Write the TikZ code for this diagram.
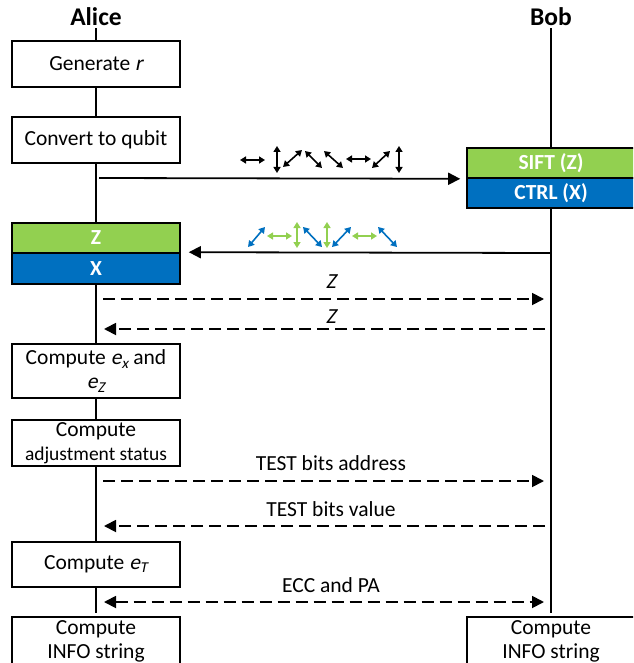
\documentclass[tikz,border=0pt]{standalone}
\usepackage{fontspec}
\setmainfont{Carlito}[AutoFakeSlant=0.2]
\usetikzlibrary{arrows.meta}
\definecolor{sgreen}{HTML}{92D050}
\definecolor{sblue}{HTML}{0070C0}
\newcommand\esub[2]{\textit{#1}\textsubscript{\textit{#2}}}
\begin{document}
\begin{tikzpicture}[x=1pt,y=-1pt,
  box/.style={draw=black, line width=1.6pt, fill=white, minimum width=168pt, inner sep=0pt, align=center, font=\fontsize{21.5}{24}\selectfont},
  gbox/.style={box, fill=sgreen, text=white, font=\bfseries\fontsize{21.5}{24}\selectfont},
  bbox/.style={box, fill=sblue, text=white, font=\bfseries\fontsize{21.5}{24}\selectfont},
  title/.style={font=\bfseries\fontsize{25.5}{26}\selectfont, inner sep=2pt},
  life/.style={line width=1.6pt},
  msg/.style={line width=1.8pt, -{Triangle[length=12pt,width=12pt]}},
  dmsg/.style={msg, dash pattern=on 12pt off 6pt},
  lbl/.style={font=\fontsize{21.5}{24}\selectfont, inner sep=0pt},
  pol/.style={line width=1.6pt, {Triangle[length=6pt,width=7pt]}-{Triangle[length=6pt,width=7pt]}},
]
\clip (0,0) rectangle (633,663);
% titles
\node[title] (alice) at (96,17) {Alice};
\node[title] (bob) at (551,17) {Bob};
% Alice boxes
\node[box, minimum height=46pt] (gen) at (96,64) {Generate \textit{r}};
\node[box, minimum height=46pt] (conv) at (96,140) {Convert to qubit};
\node[gbox, minimum height=30pt] (aZ) at (96,238) {\textit{Z}};
\node[bbox, minimum height=31pt] (aX) at (96,268.5) {\textit{X}};
\node[box, minimum height=54pt] (ex) at (96,371) {Compute \esub{e}{x} and\\\esub{e}{Z}};
\node[box, minimum height=46pt] (adj) at (96,443) {Compute\\{\fontsize{19.5}{20}\selectfont adjustment status}};
\node[box, minimum height=45pt] (eT) at (96,564.5) {Compute \esub{e}{T}};
\node[box, minimum height=48pt] (infoA) at (96,641) {Compute\\INFO string};
% Bob boxes
\node[gbox, minimum height=30pt] (sift) at (551,163) {SIFT (\textit{Z})};
\node[bbox, minimum height=30pt] (ctrl) at (551,193) {CTRL (\textit{X})};
\node[box, minimum height=48pt] (infoB) at (551,641) {Compute\\INFO string};
% lifeline ends
\coordinate (aEnd) at (96,613);
\coordinate (bEnd) at (551,613);
% lifelines
\draw[life] (alice.south) -- (gen.north);
\draw[life] (gen.south) -- (conv.north);
\draw[life] (conv.south) -- (aZ.north);
\draw[life] (aX.south) -- (ex.north);
\draw[life] (ex.south) -- (adj.north);
\draw[life] (adj.south) -- (eT.north);
\draw[life] (eT.south) -- (aEnd);
\draw[life] (bob.south) -- (sift.north);
\draw[life] (ctrl.south) -- (bEnd);
% message end points
\coordinate (m1a) at (99,178);
\coordinate (m2b) at (551,253);
\coordinate (m3a) at (103,299);
\coordinate (m3b) at (544,299);
\coordinate (m4b) at (545,329);
\coordinate (m4a) at (104,329);
\coordinate (m5a) at (103,481);
\coordinate (m5b) at (544,481);
\coordinate (m6b) at (545,526);
\coordinate (m6a) at (104,526);
\coordinate (m7a) at (104,602);
\coordinate (m7b) at (544,602);
% messages
\draw[msg] (m1a) -- ([xshift=-6pt]sift.south west);
\draw[msg] (m2b) -- ([xshift=8pt]aX.north east);
\draw[dmsg] (m3a) -- (m3b);
\draw[dmsg] (m4b) -- (m4a);
\draw[dmsg] (m5a) -- (m5b);
\draw[dmsg] (m6b) -- (m6a);
\draw[dmsg, {Triangle[length=12pt,width=12pt]}-{Triangle[length=12pt,width=12pt]}] (m7a) -- (m7b);
% labels
\node[lbl] (l3) at (331,282) {\textit{Z}};
\node[lbl] (l4) at (331,317) {\textit{Z}};
\node[lbl] (l5) at (331,463) {TEST bits address};
\node[lbl] (l6) at (331,509) {TEST bits value};
\node[lbl] (l7) at (331,585) {ECC and PA};
% polarisation symbols, sent
\draw[pol] (240,160) -- (265,160);
\draw[pol] (277,146) -- (277,173);
\draw[pol] (283,167) -- (302,150);
\draw[pol] (305,151) -- (322,168);
\draw[pol] (324,151) -- (343,168);
\draw[pol] (346,159) -- (371,159);
\draw[pol] (372,168) -- (390,151);
\draw[pol] (399,146) -- (399,173);
% polarisation symbols, measured
\draw[pol, sblue] (248,247) -- (265,227);
\draw[pol, sgreen] (267,236) -- (292,236);
\draw[pol, sgreen] (297,222) -- (297,248);
\draw[pol, sblue] (303,227) -- (322,247);
\draw[pol, sgreen] (327,222) -- (327,248);
\draw[pol, sblue] (332,247) -- (351,227);
\draw[pol, sgreen] (352,236) -- (377,236);
\draw[pol, sblue] (378,227) -- (397,247);
\end{tikzpicture}
\end{document}
